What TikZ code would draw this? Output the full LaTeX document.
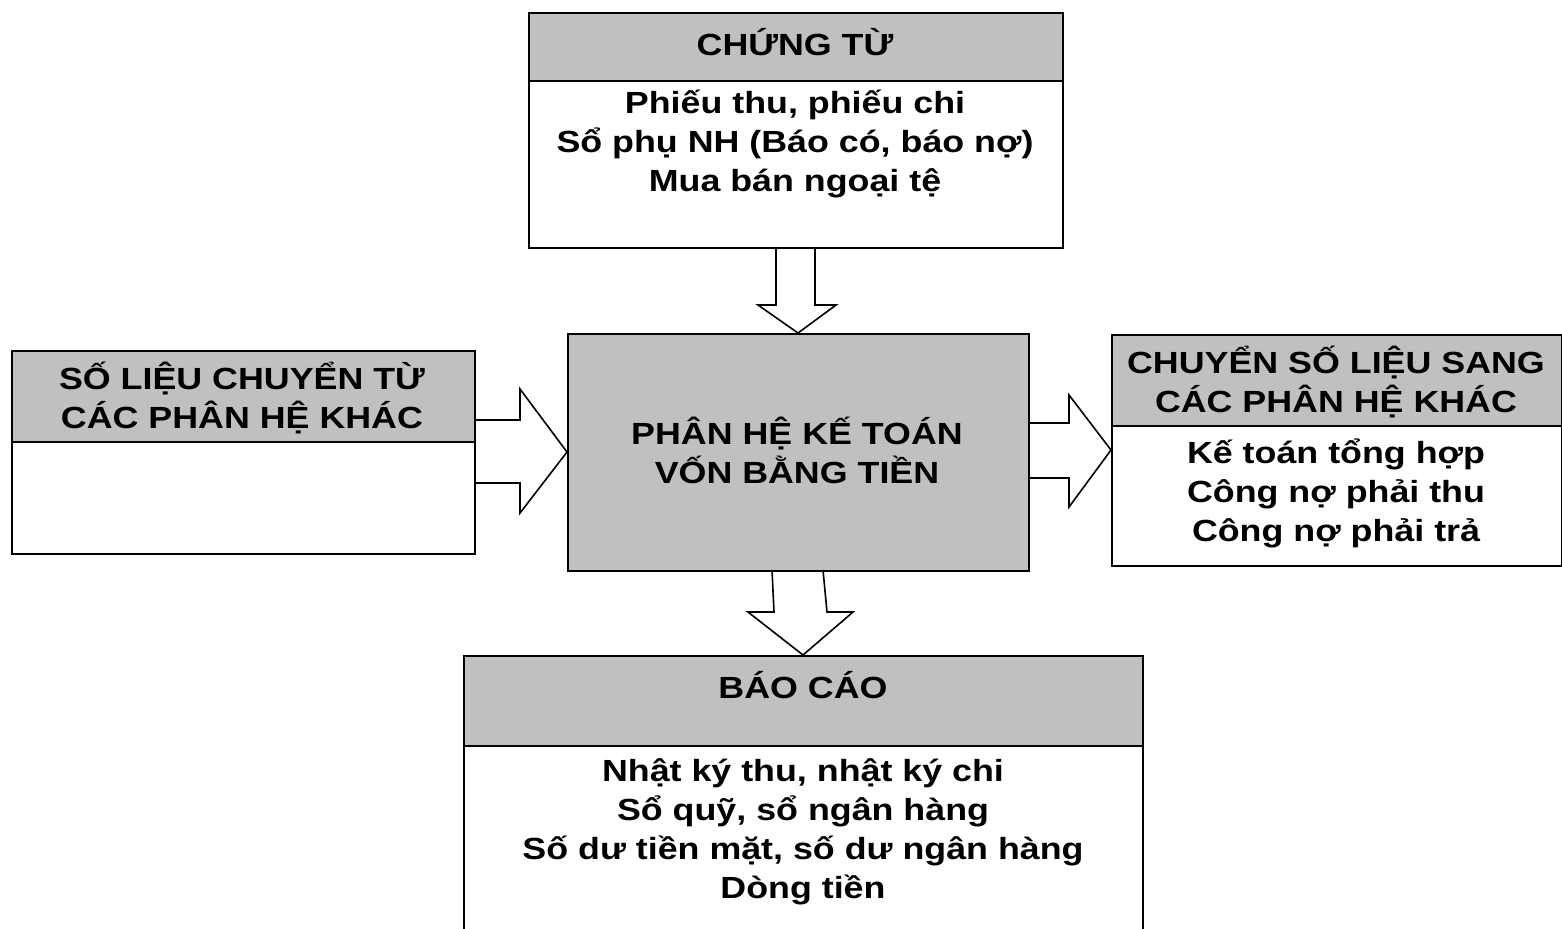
\documentclass[tikz,border=0pt]{standalone}
\usepackage{fontspec}
\setmainfont{Liberation Sans}[FakeStretch=1.17]
\begin{document}
\begin{tikzpicture}[x=0.5pt,y=-0.5pt,
  hdr/.style={draw=black,line width=1pt,fill=boxgrey,anchor=north west,inner sep=0pt,minimum width=#1},
  body/.style={draw=black,line width=1pt,fill=white,anchor=north west,inner sep=0pt,minimum width=#1},
  txt/.style={align=center,inner sep=0pt,font=\fontsize{15.3}{19.5}\selectfont\bfseries},
  blockarrow/.style={draw=black,line width=0.8pt,line join=miter}]
\definecolor{boxgrey}{HTML}{C0C0C0}
\useasboundingbox (0,0) rectangle (1562,928);
% top box
\node[hdr=267pt,minimum height=34pt] (cth) at (528,12) {};
\node[body=267pt,minimum height=83.5pt] (ctb) at (528,80) {};
\node[txt] (ctt) at (795,42) {CHỨNG TỪ};
\node[txt] (ctx) at (795,144) {Phiếu thu, phiếu chi\\Sổ phụ NH (Báo có, báo nợ)\\Mua bán ngoại tệ};
% left box
\node[hdr=231.5pt,minimum height=45.5pt] (lh) at (11,350) {};
\node[body=231.5pt,minimum height=56pt] (lb) at (11,441) {};
\node[txt] (lt) at (242,398) {SỐ LIỆU CHUYỂN TỪ\\CÁC PHÂN HỆ KHÁC};
% center
\node[hdr=230.5pt,minimum height=118.5pt] (mid) at (567,333) {};
\node[txt] (midt) at (797,450) {PHÂN HỆ KẾ TOÁN\\VỐN BẰNG TIỀN};
% right box
\node[hdr=225pt,minimum height=45.5pt] (rh) at (1111,334) {};
\node[body=225pt,minimum height=70pt] (rb) at (1111,425) {};
\node[txt] (rt) at (1336,382) {CHUYỂN SỐ LIỆU SANG\\CÁC PHÂN HỆ KHÁC};
\node[txt] (rx) at (1336,493) {Kế toán tổng hợp\\Công nợ phải thu\\Công nợ phải trả};
% bottom box
\node[hdr=339.5pt,minimum height=45pt] (bh) at (463,655) {};
\node[body=339.5pt,minimum height=100pt] (bb) at (463,745) {};
\node[txt] (bt) at (803,685) {BÁO CÁO};
\node[txt] (bx) at (803,832) {Nhật ký thu, nhật ký chi\\Sổ quỹ, sổ ngân hàng\\Số dư tiền mặt, số dư ngân hàng\\Dòng tiền};
% block arrows
\draw[blockarrow] (776,247) -- (776,305) -- (758,305) -- (798,333) -- (836,305) -- (815,305) -- (815,247);
\draw[blockarrow] (474,420) -- (520,420) -- (520,389) -- (567,452) -- (520,513) -- (520,483) -- (474,483);
\draw[blockarrow] (1028,423) -- (1069,423) -- (1069,395) -- (1111,450) -- (1069,507) -- (1069,478) -- (1028,478);
\draw[blockarrow] (772,570) -- (774,612) -- (748,612) -- (803,655) -- (853,612) -- (827,612) -- (823,570);
\end{tikzpicture}
\end{document}
